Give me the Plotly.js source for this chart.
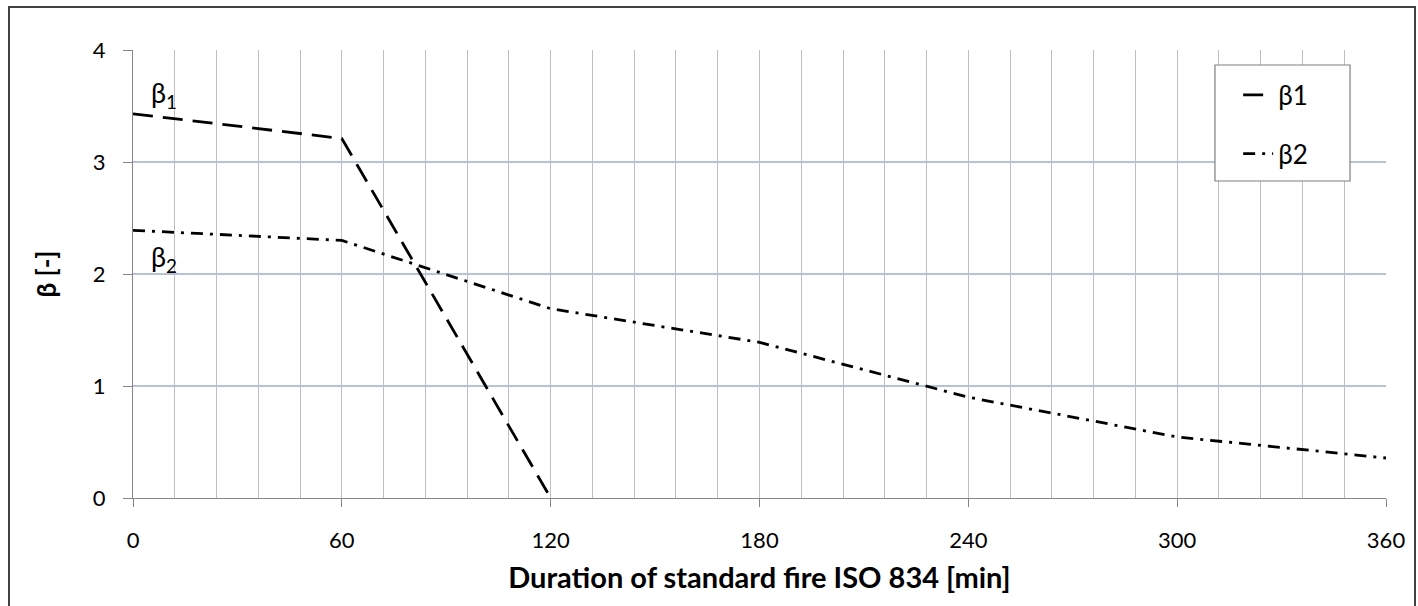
<!DOCTYPE html>
<html>
<head>
<meta charset="utf-8">
<script src="https://cdn.plot.ly/plotly-3.0.1.min.js"></script>
<style>
  html, body { margin: 0; padding: 0; background: #fff; }
  #wrap { position: relative; width: 1418px; height: 606px; overflow: hidden; }
  #chart { width: 1418px; height: 606px; }
  #frame { position: absolute; left: 8px; top: 6px; width: 1408px; height: 640px;
           border: 2px solid #404040; box-sizing: border-box; pointer-events: none; }
</style>
</head>
<body>
<div id="wrap">
  <div id="chart"></div>
  <div id="frame"></div>
</div>
<script>
// Data
const minutesB1 = [0, 60, 120];
const beta1 = [3.43, 3.21, 0];
const minutesB2 = [0, 60, 120, 180, 240, 300, 360];
const beta2 = [2.39, 2.30, 1.69, 1.39, 0.90, 0.545, 0.357];
const seriesNames = ['β1', 'β2'];
const xTickVals = [0, 60, 120, 180, 240, 300, 360];
const yTickVals = [0, 1, 2, 3, 4];

const FONT = 'Lato, "Open Sans", sans-serif';

const traces = [
  { x: minutesB1, y: beta1, name: seriesNames[0], type: 'scatter', mode: 'lines',
    legendgroup: 'a',
    line: { color: '#000000', width: 2.8, dash: '20px,10px' } },
  { x: minutesB2, y: beta2, name: seriesNames[1], type: 'scatter', mode: 'lines',
    legendgroup: 'b',
    line: { color: '#000000', width: 2.8, dash: '12px,7px,3px,7px' } }
];

const layout = {
  width: 1418, height: 606,
  margin: { l: 133, r: 32, t: 50, b: 108 },
  paper_bgcolor: '#ffffff', plot_bgcolor: '#ffffff',
  font: { family: FONT, size: 22, color: '#000' },
  showlegend: true,
  legend: {
    x: 0.882, y: 0.952, xanchor: 'left', yanchor: 'top',
    bgcolor: 'rgba(0,0,0,0)', borderwidth: 0,
    font: { family: FONT, size: 26, color: '#000' },
    traceorder: 'grouped', tracegroupgap: 22
  },
  shapes: [
    { type: 'rect', xref: 'paper', yref: 'paper',
      x0: 0.8635, x1: 0.9713, y0: 0.7076, y1: 0.9665,
      fillcolor: '#ffffff', line: { color: '#7f7f7f', width: 1.2 }, layer: 'above' }
  ],
  xaxis: {
    range: [0, 360], tickmode: 'array', tickvals: xTickVals,
    ticks: 'outside', ticklen: 8, tickcolor: '#868686', tickwidth: 1,
    ticklabelstandoff: 15,
    showline: true, linecolor: '#868686', linewidth: 1,
    showgrid: true, gridcolor: '#bfbfbf', gridwidth: 1,
    minor: { dtick: 12, tick0: 0, showgrid: true, gridcolor: '#bfbfbf', gridwidth: 1 },
    zeroline: false,
    tickfont: { family: FONT, size: 22, color: '#000' },
    title: { text: '<b>Duration of standard fire ISO 834 [min]</b>',
             font: { family: FONT, size: 29, color: '#000' }, standoff: 15 }
  },
  yaxis: {
    range: [0, 4], tickmode: 'array', tickvals: yTickVals,
    ticks: 'outside', ticklen: 9, tickcolor: '#868686', tickwidth: 1,
    ticklabelstandoff: 13,
    showline: true, linecolor: '#868686', linewidth: 1,
    showgrid: true, gridcolor: '#b4c3db', gridwidth: 1.5,
    zeroline: false,
    tickfont: { family: FONT, size: 22, color: '#000' },
    title: { text: '<b>β [-]</b>', font: { family: FONT, size: 26, color: '#000' }, standoff: 28 }
  },
  annotations: [
    { x: 9, y: 3.6, xref: 'x', yref: 'y', text: 'β<sub>1</sub>', showarrow: false,
      font: { family: FONT, size: 27, color: '#000' } },
    { x: 9, y: 2.14, xref: 'x', yref: 'y', text: 'β<sub>2</sub>', showarrow: false,
      font: { family: FONT, size: 27, color: '#000' } }
  ]
};

Plotly.newPlot('chart', traces, layout, { displayModeBar: false, staticPlot: true });
</script>
</body>
</html>
